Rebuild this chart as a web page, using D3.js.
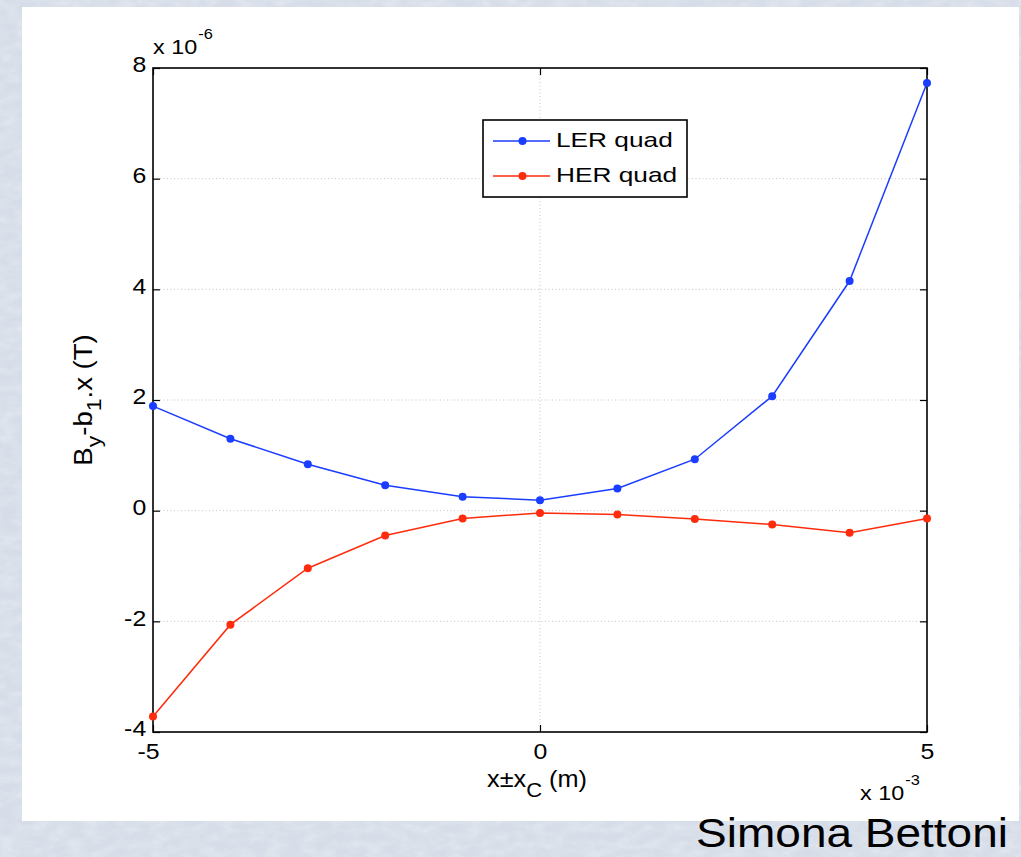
<!DOCTYPE html>
<html>
<head>
<meta charset="utf-8">
<script src="https://cdn.jsdelivr.net/npm/d3@7"></script>
<style>
  html, body { margin: 0; padding: 0; background: #dce3ec; }
  svg { display: block; }
  text { font-family: "Liberation Sans", Arial, Helvetica, sans-serif; fill: #000; }
</style>
</head>
<body>
<svg width="1021" height="857"></svg>
<script>
// x positions, in units of 10^-3 m
const xValues = [-5, -4, -3, -2, -1, 0, 1, 2, 3, 4, 5]
// B_y - b_1.x, in units of 10^-6 T
const lerValues = [1.89, 1.30, 0.84, 0.46, 0.25, 0.19, 0.40, 0.93, 2.07, 4.15, 7.73]
const herValues = [-3.72, -2.06, -1.04, -0.45, -0.14, -0.04, -0.07, -0.15, -0.25, -0.40, -0.14]
const seriesNames = ['LER quad', 'HER quad']
const seriesColors = ['#1a3dff', '#ff2b0d']
const xTicks = [-5, 0, 5]
const yTicks = [-4, -2, 0, 2, 4, 6, 8]

const svg = d3.select('svg')

// paper texture background
const defs = svg.append('defs')
const noise = defs.append('filter').attr('id', 'paper')
  .attr('x', 0).attr('y', 0).attr('width', '100%').attr('height', '100%')
noise.append('feTurbulence')
  .attr('type', 'fractalNoise')
  .attr('baseFrequency', '0.06 0.12')
  .attr('numOctaves', 3)
  .attr('seed', 7)
noise.append('feColorMatrix')
  .attr('type', 'matrix')
  .attr('values', '0 0 0 0 1  0 0 0 0 1  0 0 0 0 1  0 0 0 -1.4 0.95')

svg.append('rect')
  .attr('width', 1021).attr('height', 857)
  .attr('fill', '#d6dde8')
svg.append('rect')
  .attr('width', 1021).attr('height', 857)
  .attr('filter', 'url(#paper)')
  .attr('opacity', 0.35)

// white slide panel
svg.append('rect')
  .attr('x', 22).attr('y', 7)
  .attr('width', 997).attr('height', 814)
  .attr('fill', '#fff')

const margin = { top: 68, right: 94, bottom: 125, left: 153 }
const width = 1021 - margin.left - margin.right
const height = 857 - margin.top - margin.bottom

const x = d3.scaleLinear().domain([-5, 5]).range([margin.left, margin.left + width])
const y = d3.scaleLinear().domain([-4, 8]).range([margin.top + height, margin.top])

// grid
const grid = svg.append('g')
  .attr('stroke', '#c4c4c4')
  .attr('stroke-width', 1)
  .attr('stroke-dasharray', '1,2.5')
grid.selectAll('.gy')
  .data(yTicks.slice(1, -1))
  .enter().append('line')
  .attr('x1', margin.left).attr('x2', margin.left + width)
  .attr('y1', d => y(d)).attr('y2', d => y(d))
grid.selectAll('.gx')
  .data(xTicks.slice(1, -1))
  .enter().append('line')
  .attr('y1', margin.top).attr('y2', margin.top + height)
  .attr('x1', d => x(d)).attr('x2', d => x(d))

// axes: ticks pointing inward, box on all four sides
const tickLen = 7
const fmt = d => String(d)
const styleAxis = g => {
  g.select('.domain').remove()
  g.selectAll('.tick line').attr('stroke', '#000').attr('stroke-width', 1.2)
  g.selectAll('.tick text')
    .attr('font-size', 22)
    .attr('font-family', '"Liberation Sans", Arial, sans-serif')
    .attr('fill', '#000')
    .attr('transform', 'scale(1.13,1)')
}

svg.append('g')
  .attr('transform', `translate(0,${margin.top + height})`)
  .call(d3.axisBottom(x).tickValues(xTicks).tickSizeInner(-tickLen).tickSizeOuter(0).tickPadding(11).tickFormat(fmt))
  .call(styleAxis)
  .call(g => g.selectAll('.tick text').attr('dx', d => d < 0 ? '-0.2em' : 0))

svg.append('g')
  .attr('transform', `translate(0,${margin.top})`)
  .call(d3.axisTop(x).tickValues(xTicks).tickSizeInner(-tickLen).tickSizeOuter(0).tickFormat(''))
  .call(styleAxis)

svg.append('g')
  .attr('transform', `translate(${margin.left},0)`)
  .call(d3.axisLeft(y).tickValues(yTicks).tickSizeInner(-tickLen).tickSizeOuter(0).tickPadding(6).tickFormat(fmt))
  .call(styleAxis)
  .call(g => g.selectAll('.tick text').attr('dy', '0.18em'))

svg.append('g')
  .attr('transform', `translate(${margin.left + width},0)`)
  .call(d3.axisRight(y).tickValues(yTicks).tickSizeInner(-tickLen).tickSizeOuter(0).tickFormat(''))
  .call(styleAxis)

svg.append('rect')
  .attr('x', margin.left).attr('y', margin.top)
  .attr('width', width).attr('height', height)
  .attr('fill', 'none')
  .attr('stroke', '#000')
  .attr('stroke-width', 1.6)

// data
const series = [lerValues, herValues]
const line = d3.line()
  .x((d, i) => x(xValues[i]))
  .y(d => y(d))

series.forEach((vals, s) => {
  svg.append('path')
    .datum(vals)
    .attr('fill', 'none')
    .attr('stroke', seriesColors[s])
    .attr('stroke-width', 1.5)
    .attr('d', line)
  svg.selectAll('.pt' + s)
    .data(vals)
    .enter().append('circle')
    .attr('cx', (d, i) => x(xValues[i]))
    .attr('cy', d => y(d))
    .attr('r', 4)
    .attr('fill', seriesColors[s])
})

// legend
const legend = svg.append('g').attr('transform', 'translate(483,120)')
legend.append('rect')
  .attr('width', 204).attr('height', 77)
  .attr('fill', '#fff')
  .attr('stroke', '#000')
  .attr('stroke-width', 1.6)
seriesNames.forEach((name, s) => {
  const ly = 21 + s * 35
  legend.append('line')
    .attr('x1', 10).attr('x2', 67)
    .attr('y1', ly).attr('y2', ly)
    .attr('stroke', seriesColors[s])
    .attr('stroke-width', 1.5)
  legend.append('circle')
    .attr('cx', 39.5).attr('cy', ly).attr('r', 4)
    .attr('fill', seriesColors[s])
  legend.append('text')
    .attr('transform', `translate(73,${ly + 6}) scale(1.25,1)`)
    .attr('font-size', 21)
    .text(name)
})

// exponent labels
const yExp = svg.append('text')
  .attr('transform', 'translate(153,54) scale(1.17,1)')
  .attr('font-size', 20)
yExp.append('tspan').text('x 10')
yExp.append('tspan').attr('dy', -15).attr('dx', 1).attr('font-size', 14).text('-6')

const xExp = svg.append('text')
  .attr('transform', 'translate(860,800) scale(1.17,1)')
  .attr('font-size', 20)
xExp.append('tspan').text('x 10')
xExp.append('tspan').attr('dy', -15).attr('dx', 1).attr('font-size', 14).text('-3')

// axis titles
const xLabel = svg.append('text')
  .attr('transform', 'translate(537,787) scale(1.1,1)')
  .attr('text-anchor', 'middle')
  .attr('font-size', 23)
xLabel.append('tspan').text('x±x')
xLabel.append('tspan').attr('dy', 10).attr('font-size', 20).text('C')
xLabel.append('tspan').attr('dy', -10).text(' (m)')

const yLabel = svg.append('text')
  .attr('transform', `translate(92,${margin.top + height / 2}) rotate(-90) scale(1.1,1)`)
  .attr('text-anchor', 'middle')
  .attr('font-size', 25)
yLabel.append('tspan').text('B')
yLabel.append('tspan').attr('dy', 9).attr('font-size', 21).text('y')
yLabel.append('tspan').attr('dy', -9).text('-b')
yLabel.append('tspan').attr('dy', 9).attr('font-size', 21).text('1')
yLabel.append('tspan').attr('dy', -9).text('.x (T)')

// author credit
svg.append('text')
  .attr('transform', 'translate(1008,847) scale(1.15,1)')
  .attr('text-anchor', 'end')
  .attr('font-size', 40)
  .attr('font-weight', 300)
  .attr('fill', '#111')
  .text('Simona Bettoni')
</script>
</body>
</html>
